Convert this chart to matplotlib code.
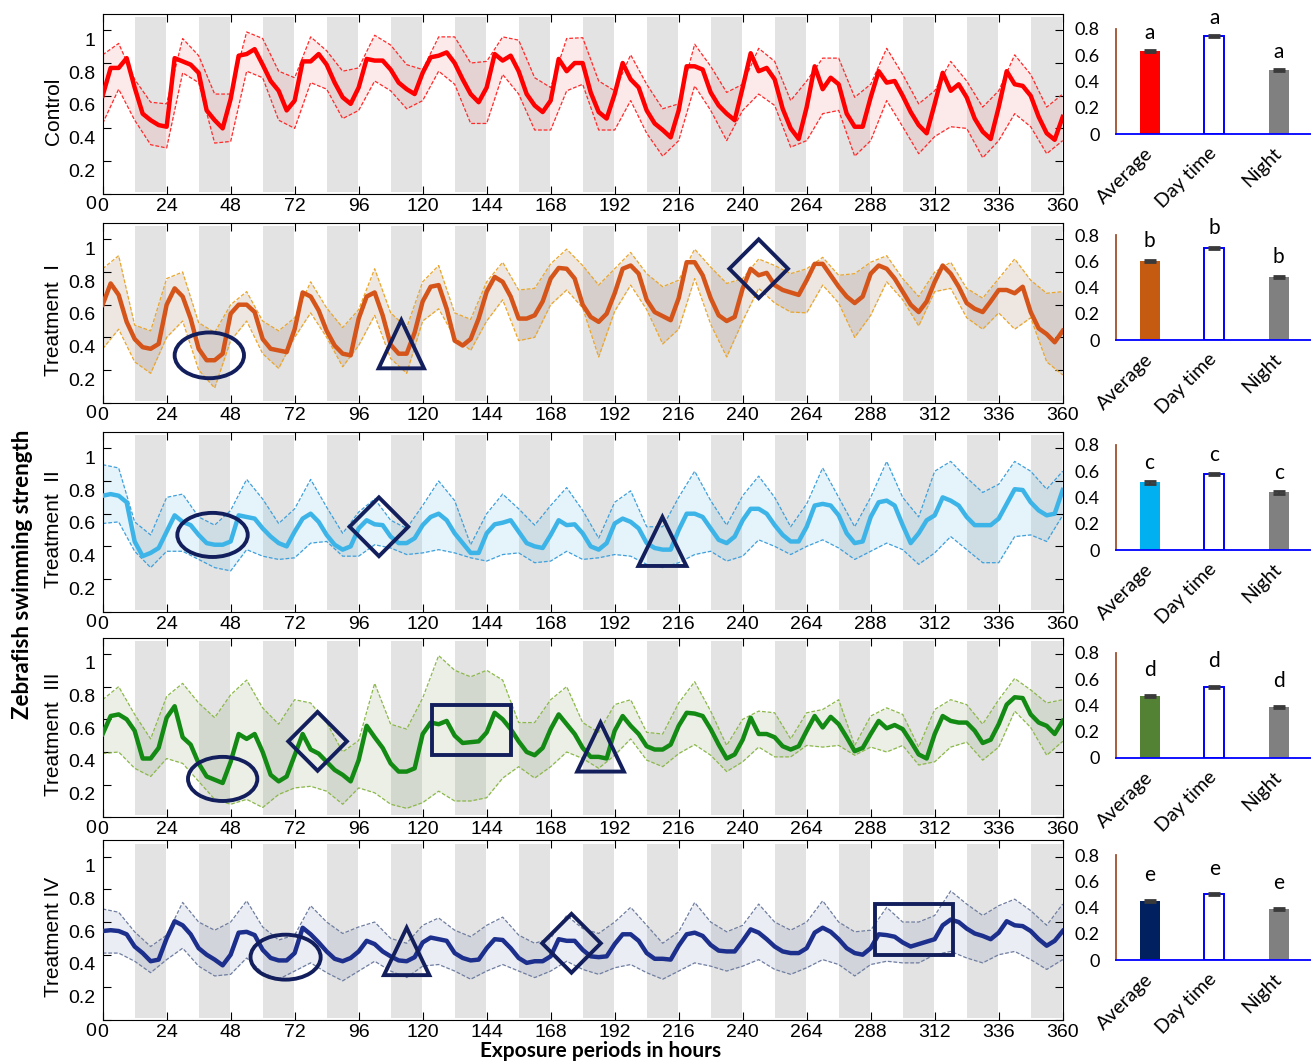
import numpy as np
import matplotlib.pyplot as plt
from matplotlib.patches import Ellipse, Polygon, Rectangle
from matplotlib.transforms import ScaledTranslation

plt.rcParams['font.family'] = ['Liberation Sans', 'DejaVu Sans']

hours_mean = np.arange(0, 361, 3)
hours_band = np.arange(0, 361, 6)
hour_ticks = list(range(0, 361, 24))

row_names = ['Control', 'Treatment  I', 'Treatment  II', 'Treatment  III', 'Treatment IV']

control_mean = [
    0.60, 0.77, 0.77, 0.83, 0.65, 0.49, 0.45, 0.42, 0.41, 0.83, 0.81, 0.79,
    0.74, 0.51, 0.45, 0.40, 0.58, 0.845, 0.855, 0.885, 0.79, 0.69, 0.63, 0.51,
    0.57, 0.81, 0.81, 0.855, 0.79, 0.68, 0.59, 0.55, 0.65, 0.825, 0.815, 0.815,
    0.76, 0.68, 0.64, 0.61, 0.74, 0.835, 0.845, 0.865, 0.80, 0.70, 0.61, 0.56,
    0.65, 0.855, 0.815, 0.845, 0.75, 0.61, 0.54, 0.50, 0.57, 0.825, 0.75, 0.80,
    0.80, 0.62, 0.50, 0.46, 0.61, 0.80, 0.70, 0.65, 0.51, 0.43, 0.39, 0.345,
    0.51, 0.78, 0.78, 0.76, 0.62, 0.54, 0.49, 0.45, 0.65, 0.86, 0.75, 0.77,
    0.70, 0.52, 0.40, 0.335, 0.53, 0.78, 0.64, 0.71, 0.67, 0.49, 0.41, 0.41,
    0.59, 0.75, 0.68, 0.69, 0.60, 0.50, 0.42, 0.37, 0.55, 0.74, 0.63, 0.67,
    0.59, 0.46, 0.38, 0.335, 0.53, 0.75, 0.67, 0.66, 0.60, 0.47, 0.37, 0.33,
    0.47]
control_upper = [
    0.85, 0.92, 0.70, 0.56, 0.55, 0.95, 0.845, 0.61, 0.61, 0.99,
    0.95, 0.75, 0.71, 0.96, 0.875, 0.75, 0.77, 0.97, 0.91, 0.79,
    0.76, 0.96, 0.96, 0.80, 0.81, 0.96, 0.94, 0.71, 0.65, 0.95,
    0.955, 0.69, 0.63, 0.85, 0.67, 0.52, 0.55, 0.915, 0.78, 0.62,
    0.67, 0.89, 0.81, 0.57, 0.69, 0.83, 0.83, 0.59, 0.67, 0.89,
    0.73, 0.55, 0.63, 0.81, 0.69, 0.53, 0.63, 0.85, 0.73, 0.53,
    0.61]
control_lower = [
    0.43, 0.64, 0.45, 0.30, 0.28, 0.74, 0.68, 0.31, 0.32, 0.75,
    0.71, 0.45, 0.40, 0.68, 0.64, 0.46, 0.51, 0.69, 0.63, 0.52,
    0.57, 0.75, 0.67, 0.43, 0.43, 0.73, 0.61, 0.39, 0.39, 0.63,
    0.67, 0.39, 0.39, 0.57, 0.37, 0.23, 0.325, 0.66, 0.51, 0.325,
    0.51, 0.61, 0.54, 0.285, 0.325, 0.49, 0.51, 0.23, 0.325, 0.57,
    0.41, 0.245, 0.35, 0.41, 0.40, 0.22, 0.325, 0.49, 0.41, 0.245,
    0.325]

t1_mean = [
    0.60, 0.73, 0.66, 0.495, 0.39, 0.34, 0.33, 0.36, 0.60, 0.70, 0.65, 0.515,
    0.33, 0.26, 0.26, 0.30, 0.545, 0.60, 0.60, 0.555, 0.39, 0.33, 0.32, 0.31,
    0.45, 0.675, 0.65, 0.565, 0.44, 0.35, 0.30, 0.29, 0.515, 0.65, 0.675, 0.535,
    0.355, 0.30, 0.30, 0.43, 0.62, 0.71, 0.72, 0.575, 0.38, 0.35, 0.39, 0.515,
    0.68, 0.77, 0.74, 0.65, 0.515, 0.515, 0.535, 0.62, 0.76, 0.825, 0.82, 0.76,
    0.60, 0.525, 0.495, 0.545, 0.67, 0.82, 0.84, 0.79, 0.63, 0.555, 0.53, 0.505,
    0.64, 0.86, 0.86, 0.78, 0.64, 0.535, 0.50, 0.525, 0.70, 0.82, 0.78, 0.795,
    0.72, 0.69, 0.675, 0.66, 0.75, 0.85, 0.85, 0.78, 0.71, 0.65, 0.61, 0.65,
    0.79, 0.84, 0.82, 0.76, 0.68, 0.60, 0.555, 0.62, 0.74, 0.84, 0.79, 0.71,
    0.61, 0.575, 0.555, 0.62, 0.69, 0.69, 0.67, 0.71, 0.555, 0.455, 0.42, 0.37,
    0.44]
t1_upper = [
    0.82, 0.90, 0.475, 0.44, 0.76, 0.80, 0.49, 0.43, 0.60, 0.68,
    0.50, 0.44, 0.52, 0.74, 0.58, 0.46, 0.57, 0.82, 0.55, 0.46,
    0.74, 0.84, 0.55, 0.51, 0.74, 0.86, 0.69, 0.70, 0.85, 0.94,
    0.84, 0.72, 0.82, 0.92, 0.79, 0.71, 0.75, 0.94, 0.83, 0.73,
    0.76, 0.88, 0.84, 0.79, 0.82, 0.89, 0.78, 0.79, 0.86, 0.90,
    0.76, 0.65, 0.80, 0.86, 0.70, 0.64, 0.76, 0.88, 0.75, 0.67,
    0.68]
t1_lower = [
    0.33, 0.45, 0.25, 0.18, 0.40, 0.50, 0.20, 0.09, 0.38, 0.50,
    0.30, 0.21, 0.40, 0.55, 0.40, 0.22, 0.35, 0.535, 0.27, 0.18,
    0.50, 0.575, 0.40, 0.32, 0.50, 0.63, 0.38, 0.40, 0.60, 0.69,
    0.58, 0.28, 0.56, 0.72, 0.57, 0.36, 0.45, 0.76, 0.48, 0.28,
    0.50, 0.70, 0.61, 0.555, 0.55, 0.72, 0.61, 0.40, 0.535, 0.74,
    0.63, 0.47, 0.68, 0.70, 0.52, 0.45, 0.55, 0.45, 0.52, 0.25,
    0.17]

t2_mean = [
    0.71, 0.72, 0.71, 0.67, 0.43, 0.34, 0.36, 0.39, 0.49, 0.59, 0.55, 0.53,
    0.47, 0.42, 0.41, 0.41, 0.43, 0.59, 0.58, 0.57, 0.51, 0.46, 0.42, 0.40,
    0.49, 0.57, 0.60, 0.55, 0.47, 0.41, 0.38, 0.40, 0.51, 0.56, 0.535, 0.53,
    0.46, 0.42, 0.42, 0.45, 0.53, 0.58, 0.60, 0.56, 0.48, 0.42, 0.36, 0.36,
    0.48, 0.535, 0.545, 0.56, 0.49, 0.42, 0.40, 0.39, 0.47, 0.56, 0.53, 0.535,
    0.48, 0.40, 0.38, 0.42, 0.54, 0.57, 0.55, 0.51, 0.42, 0.39, 0.38, 0.38,
    0.50, 0.60, 0.60, 0.58, 0.51, 0.44, 0.42, 0.46, 0.56, 0.63, 0.63, 0.60,
    0.53, 0.47, 0.43, 0.43, 0.52, 0.65, 0.66, 0.65, 0.59, 0.48, 0.42, 0.43,
    0.58, 0.67, 0.68, 0.65, 0.53, 0.42, 0.48, 0.56, 0.59, 0.70, 0.68, 0.65,
    0.58, 0.53, 0.53, 0.53, 0.57, 0.66, 0.75, 0.745, 0.67, 0.62, 0.59, 0.60,
    0.745]
t2_upper = [
    0.90, 0.88, 0.55, 0.47, 0.70, 0.72, 0.58, 0.53, 0.62, 0.81,
    0.69, 0.54, 0.63, 0.81, 0.64, 0.48, 0.61, 0.69, 0.56, 0.51,
    0.65, 0.80, 0.68, 0.41, 0.60, 0.72, 0.63, 0.53, 0.65, 0.76,
    0.62, 0.45, 0.67, 0.74, 0.52, 0.52, 0.70, 0.86, 0.68, 0.53,
    0.71, 0.83, 0.70, 0.52, 0.66, 0.88, 0.70, 0.52, 0.70, 0.92,
    0.70, 0.58, 0.86, 0.92, 0.82, 0.73, 0.78, 0.92, 0.86, 0.75,
    0.86]
t2_lower = [
    0.54, 0.55, 0.37, 0.27, 0.37, 0.37, 0.32, 0.27, 0.25, 0.38,
    0.34, 0.32, 0.33, 0.42, 0.43, 0.34, 0.34, 0.41, 0.39, 0.35,
    0.36, 0.38, 0.36, 0.33, 0.31, 0.35, 0.36, 0.30, 0.31, 0.37,
    0.32, 0.33, 0.35, 0.34, 0.29, 0.27, 0.30, 0.35, 0.37, 0.31,
    0.34, 0.44, 0.40, 0.35, 0.40, 0.44, 0.39, 0.32, 0.37, 0.42,
    0.38, 0.29, 0.36, 0.46, 0.38, 0.30, 0.30, 0.46, 0.47, 0.43,
    0.59]

t3_mean = [
    0.51, 0.62, 0.63, 0.60, 0.53, 0.36, 0.36, 0.425, 0.61, 0.68, 0.49, 0.445,
    0.33, 0.25, 0.23, 0.21, 0.34, 0.51, 0.48, 0.51, 0.40, 0.26, 0.22, 0.25,
    0.38, 0.51, 0.415, 0.39, 0.34, 0.29, 0.26, 0.22, 0.35, 0.56, 0.49, 0.425,
    0.33, 0.28, 0.28, 0.30, 0.51, 0.58, 0.57, 0.59, 0.50, 0.455, 0.46, 0.465,
    0.52, 0.64, 0.60, 0.54, 0.465, 0.40, 0.38, 0.425, 0.54, 0.63, 0.57, 0.51,
    0.425, 0.37, 0.37, 0.36, 0.53, 0.62, 0.56, 0.51, 0.435, 0.415, 0.415, 0.445,
    0.56, 0.64, 0.635, 0.62, 0.54, 0.445, 0.36, 0.385, 0.475, 0.61, 0.51, 0.51,
    0.49, 0.435, 0.415, 0.435, 0.53, 0.62, 0.55, 0.615, 0.57, 0.49, 0.405, 0.425,
    0.51, 0.59, 0.545, 0.565, 0.54, 0.465, 0.385, 0.36, 0.51, 0.62, 0.59, 0.58,
    0.58, 0.53, 0.455, 0.475, 0.57, 0.69, 0.735, 0.73, 0.63, 0.58, 0.56, 0.51,
    0.59]
t3_upper = [
    0.72, 0.80, 0.63, 0.48, 0.74, 0.82, 0.70, 0.61, 0.75, 0.84,
    0.67, 0.57, 0.72, 0.70, 0.58, 0.40, 0.47, 0.82, 0.57, 0.54,
    0.73, 0.99, 0.90, 0.86, 0.90, 0.84, 0.58, 0.58, 0.72, 0.80,
    0.58, 0.52, 0.69, 0.72, 0.52, 0.51, 0.70, 0.83, 0.65, 0.44,
    0.60, 0.65, 0.64, 0.48, 0.64, 0.66, 0.72, 0.44, 0.62, 0.67,
    0.63, 0.43, 0.66, 0.72, 0.69, 0.57, 0.72, 0.85, 0.78, 0.70,
    0.72]
t3_lower = [
    0.39, 0.40, 0.30, 0.25, 0.36, 0.33, 0.22, 0.11, 0.08, 0.11,
    0.06, 0.14, 0.18, 0.19, 0.16, 0.08, 0.18, 0.15, 0.08, 0.055,
    0.09, 0.16, 0.10, 0.10, 0.12, 0.24, 0.31, 0.24, 0.31, 0.40,
    0.36, 0.30, 0.38, 0.48, 0.35, 0.31, 0.39, 0.445, 0.38, 0.28,
    0.34, 0.43, 0.37, 0.37, 0.44, 0.43, 0.44, 0.38, 0.43, 0.40,
    0.44, 0.32, 0.34, 0.43, 0.46, 0.35, 0.43, 0.65, 0.55, 0.38,
    0.465]

t4_mean = [
    0.545, 0.55, 0.545, 0.525, 0.45, 0.41, 0.36, 0.37, 0.50, 0.605, 0.58, 0.525,
    0.44, 0.40, 0.37, 0.335, 0.40, 0.535, 0.54, 0.52, 0.43, 0.38, 0.365, 0.365,
    0.41, 0.565, 0.525, 0.475, 0.42, 0.375, 0.36, 0.38, 0.42, 0.485, 0.465, 0.42,
    0.39, 0.365, 0.36, 0.385, 0.475, 0.505, 0.495, 0.485, 0.41, 0.38, 0.365, 0.37,
    0.44, 0.495, 0.49, 0.44, 0.38, 0.35, 0.36, 0.36, 0.39, 0.495, 0.485, 0.485,
    0.43, 0.39, 0.385, 0.39, 0.465, 0.525, 0.525, 0.485, 0.41, 0.375, 0.375, 0.37,
    0.455, 0.525, 0.535, 0.515, 0.46, 0.425, 0.42, 0.42, 0.485, 0.555, 0.535, 0.495,
    0.45, 0.42, 0.41, 0.41, 0.44, 0.535, 0.565, 0.54, 0.495, 0.44, 0.41, 0.40,
    0.44, 0.525, 0.52, 0.51, 0.475, 0.45, 0.465, 0.48, 0.495, 0.58, 0.615, 0.60,
    0.56, 0.53, 0.515, 0.495, 0.535, 0.605, 0.58, 0.575, 0.545, 0.495, 0.455, 0.485,
    0.545]
t4_upper = [
    0.68, 0.66, 0.54, 0.45, 0.52, 0.72, 0.60, 0.55, 0.60, 0.73,
    0.57, 0.49, 0.52, 0.70, 0.60, 0.53, 0.57, 0.60, 0.50, 0.47,
    0.58, 0.625, 0.55, 0.51, 0.58, 0.63, 0.52, 0.47, 0.50, 0.64,
    0.56, 0.53, 0.60, 0.69, 0.58, 0.47, 0.54, 0.72, 0.60, 0.54,
    0.58, 0.71, 0.60, 0.55, 0.60, 0.73, 0.60, 0.54, 0.55, 0.69,
    0.60, 0.60, 0.64, 0.79, 0.71, 0.64, 0.70, 0.74, 0.67, 0.58,
    0.71]
t4_lower = [
    0.41, 0.41, 0.36, 0.29, 0.37, 0.44, 0.33, 0.27, 0.28, 0.38,
    0.29, 0.25, 0.30, 0.35, 0.29, 0.24, 0.30, 0.36, 0.30, 0.26,
    0.33, 0.34, 0.30, 0.25, 0.30, 0.34, 0.30, 0.26, 0.30, 0.36,
    0.31, 0.28, 0.32, 0.34, 0.29, 0.25, 0.30, 0.35, 0.33, 0.30,
    0.33, 0.37, 0.31, 0.28, 0.32, 0.37, 0.34, 0.27, 0.34, 0.36,
    0.35, 0.35, 0.40, 0.42, 0.38, 0.35, 0.40, 0.42, 0.37, 0.31,
    0.37]

# right-hand bar panels
bar_labels = ['Average', 'Day time', 'Night']
bar_average = [0.63, 0.60, 0.516, 0.47, 0.45]
bar_day = [0.745, 0.70, 0.58, 0.54, 0.50]
bar_night = [0.49, 0.48, 0.44, 0.39, 0.39]
bar_err = [0.008, 0.008, 0.01, 0.006, 0.008]
bar_letters = ['a', 'b', 'c', 'd', 'e']

means = [control_mean, t1_mean, t2_mean, t3_mean, t4_mean]
uppers = [control_upper, t1_upper, t2_upper, t3_upper, t4_upper]
lowers = [control_lower, t1_lower, t2_lower, t3_lower, t4_lower]

line_colors = ['#ff0000', '#d4541a', '#3db4e8', '#138a13', '#1c2f8c']
dash_colors = ['#ff2a2a', '#eaa62c', '#3fa0dc', '#8cb84a', '#6f7ea0']
fill_colors = ['#f08080', '#8b5a3c', '#6fbfe8', '#7a9a5a', '#5060a0']
fill_alpha = [0.16, 0.15, 0.18, 0.15, 0.11]
avg_colors = ['#ff0000', '#c55a11', '#00b0f0', '#548235', '#002060']
letter_gap = [0.06, 0.08, 0.07, 0.12, 0.12]

# annotation shapes (kind, x centre, y centre, width, height)
marks = [
    [],
    [('ellipse', 40, 0.29, 26, 0.28), ('triangle', 112, 0.358, 17, 0.295),
     ('diamond', 246, 0.82, 22, 0.36)],
    [('ellipse', 41.2, 0.47, 26.4, 0.27), ('diamond', 103.6, 0.52, 22, 0.36),
     ('triangle', 209.9, 0.43, 18, 0.30)],
    [('ellipse', 45, 0.235, 26, 0.27), ('diamond', 80.6, 0.465, 22, 0.36),
     ('rect', 138.3, 0.535, 29.5, 0.31), ('triangle', 186.7, 0.43, 17.5, 0.30)],
    [('ellipse', 68.6, 0.385, 26.3, 0.275), ('triangle', 114, 0.42, 17, 0.29),
     ('diamond', 175.8, 0.47, 22, 0.36), ('rect', 304.2, 0.556, 29.3, 0.313)],
]
mark_color = '#131f5c'

fig = plt.figure(figsize=(13.11, 10.62), dpi=100)
line_bottoms = [0.8176, 0.6208, 0.424, 0.2304, 0.0395]
bar_bottoms = [0.8738, 0.6798, 0.4821, 0.2863, 0.0960]
shift = ScaledTranslation(0, -0.09, fig.dpi_scale_trans)

for i in range(5):
    ax = fig.add_axes([0.0783, line_bottoms[i], 0.7323, 0.1692])
    for d in range(15):
        ax.axvspan(24 * d + 12.2, 24 * d + 23.6, ymin=0.012, ymax=0.982,
                   color='#e3e3e3', lw=0, zorder=0)
    ax.fill_between(hours_band, lowers[i], uppers[i], color=fill_colors[i],
                    alpha=fill_alpha[i], lw=0, zorder=1)
    ax.plot(hours_band, uppers[i], ls=(0, (3, 1.5)), lw=0.9, color=dash_colors[i], zorder=2)
    ax.plot(hours_band, lowers[i], ls=(0, (3, 1.5)), lw=0.9, color=dash_colors[i], zorder=2)
    ax.plot(hours_mean, means[i], color=line_colors[i], lw=3.2, zorder=3)

    for kind, cx, cy, w, h in marks[i]:
        if kind == 'ellipse':
            p = Ellipse((cx, cy), w, h)
        elif kind == 'rect':
            p = Rectangle((cx - w / 2, cy - h / 2), w, h)
        elif kind == 'triangle':
            p = Polygon([(cx - w / 2, cy - h / 2), (cx + w / 2, cy - h / 2), (cx, cy + h / 2)])
        else:
            p = Polygon([(cx - w / 2, cy), (cx, cy + h / 2), (cx + w / 2, cy), (cx, cy - h / 2)])
        p.set(fill=False, edgecolor=mark_color, lw=2.8, zorder=5, joinstyle='miter')
        ax.add_patch(p)

    ax.set_xlim(0, 360)
    ax.set_ylim(0, 1.1)
    ax.set_xticks(hour_ticks)
    ax.set_yticks([0, 0.2, 0.4, 0.6, 0.8, 1])
    ax.set_yticklabels(['0', '0.2', '0.4', '0.6', '0.8', '1'])
    ax.tick_params(direction='in', top=True, right=True, length=6, labelsize=14)
    ax.tick_params(axis='x', pad=3)
    ax.tick_params(axis='y', pad=5)
    for lbl in ax.get_yticklabels():
        lbl.set_transform(lbl.get_transform() + shift)
    ax.set_ylabel(row_names[i], fontsize=15)
    ax.yaxis.set_label_coords(-0.041, 0.46)

    bx = fig.add_axes([0.8513, bar_bottoms[i], 0.1487, 0.0989])
    vals = [bar_average[i], bar_day[i], bar_night[i]]
    bx.bar([0, 1, 2], vals, width=0.31,
           color=[avg_colors[i], 'white', '#808080'],
           edgecolor=[avg_colors[i], '#0000ff', '#808080'], linewidth=[0, 1.4, 0])
    bx.errorbar([0, 1, 2], vals, yerr=bar_err[i], fmt='none', ecolor='#3a3a3a',
                capsize=4, elinewidth=1.5, capthick=2)
    for j, v in enumerate(vals):
        bx.text(j, v + letter_gap[i], bar_letters[i], ha='center', va='bottom',
                fontsize=15, family='Lato', clip_on=False)
    bx.set_xlim(-0.52, 2.5)
    bx.set_ylim(0, 0.8)
    for s in ['top', 'right']:
        bx.spines[s].set_visible(False)
    bx.spines['left'].set_color('#a0522d')
    bx.spines['left'].set_linewidth(1.3)
    bx.spines['bottom'].set_color('#0000ff')
    bx.spines['bottom'].set_linewidth(1.3)
    bx.set_yticks([0, 0.2, 0.4, 0.6, 0.8])
    bx.set_yticklabels(['0', '0.2', '0.4', '0.6', '0.8'], family='Lato', fontsize=13)
    bx.tick_params(axis='y', length=0, pad=12)
    bx.set_xticks([0, 1, 2])
    bx.set_xticklabels(bar_labels, rotation=45, ha='right', va='center',
                       rotation_mode='anchor', family='Lato', fontsize=14)
    bx.tick_params(axis='x', length=0, pad=12)

fig.text(0.017, 0.459, 'Zebrafish swimming strength', rotation=90, ha='center',
         va='center', fontsize=16, fontweight='bold', family='Lato')
fig.text(0.458, 0.001, 'Exposure periods in hours', ha='center', va='bottom',
         fontsize=15, fontweight='bold', family='Lato')

fig.savefig('out.png', dpi=100)
